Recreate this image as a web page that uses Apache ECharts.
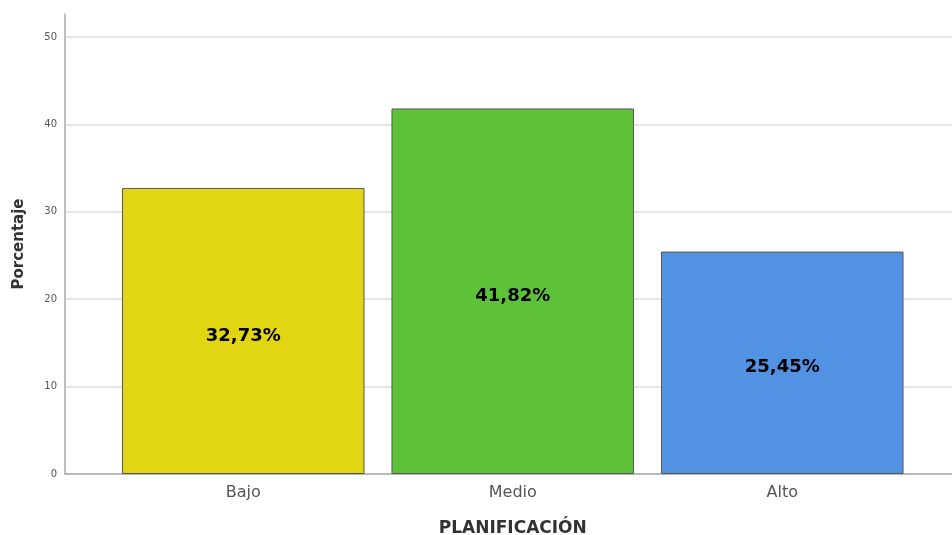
<!DOCTYPE html>
<html>
<head>
<meta charset="utf-8">
<script src="https://cdn.jsdelivr.net/npm/echarts@6/dist/echarts.min.js"></script>
<style>html,body{margin:0;padding:0;background:#fff}#c{width:952px;height:535px}</style>
</head>
<body>
<div id="c"></div>
<script>
var categories = ['Bajo', 'Medio', 'Alto'];
var values = [32.73, 41.82, 25.45];
var barColors = ['#e2d511', '#5ec238', '#5192e2'];
var yTicks = [0, 10, 20, 30, 40, 50];

var chart = echarts.init(document.getElementById('c'));
var fontFam = '"DejaVu Sans", sans-serif';
chart.setOption({
  backgroundColor: '#fff',
  animation: false,
  grid: [
    {left: 65, right: 0, top: 37, bottom: 61, outerBoundsMode: 'none'},
    {left: 108.5, right: 35, top: 37, bottom: 61, outerBoundsMode: 'none'},
    {left: 65, right: 0, top: 14, bottom: 61, outerBoundsMode: 'none'}
  ],
  xAxis: [
    {gridIndex: 0, type: 'category', data: categories, axisLabel: {show: false}, axisTick: {show: false},
     axisLine: {show: true, lineStyle: {color: '#aaaaaa', width: 1.5}}},
    {gridIndex: 1, type: 'category', data: categories, axisTick: {show: false}, axisLine: {show: false},
     axisLabel: {color: '#555', fontSize: 16, fontFamily: fontFam, margin: 11},
     name: 'PLANIFICACIÓN', nameLocation: 'middle', nameGap: 46,
     nameTextStyle: {fontWeight: 'bold', fontSize: 17, color: '#333', fontFamily: fontFam}},
    {gridIndex: 2, type: 'category', data: categories, show: false}
  ],
  yAxis: [
    {gridIndex: 0, type: 'value', min: yTicks[0], max: yTicks[yTicks.length - 1], interval: 10,
     axisLine: {show: false}, axisTick: {show: false},
     axisLabel: {color: '#555', fontSize: 10, fontFamily: fontFam, margin: 8},
     splitLine: {show: true, lineStyle: {color: '#dddddd', width: 1.5}}},
    {gridIndex: 1, type: 'value', min: 0, max: 50, show: false},
    {gridIndex: 2, type: 'value', min: 0, max: 52.63, splitLine: {show: false}, axisTick: {show: false},
     axisLabel: {show: false}, axisLine: {show: true, lineStyle: {color: '#aaaaaa', width: 1.5}},
     name: 'Porcentaje', nameLocation: 'middle', nameGap: 38, nameRotate: 90,
     nameTextStyle: {fontWeight: 'bold', fontSize: 15, color: '#333', fontFamily: fontFam}}
  ],
  series: [{
    type: 'bar', xAxisIndex: 1, yAxisIndex: 1,
    barWidth: '90%',
    data: values.map(function (v, i) {
      return {value: v, itemStyle: {color: barColors[i]}};
    }),
    itemStyle: {borderColor: '#555', borderWidth: 1},
    label: {show: true, position: 'inside', offset: [0, 5], color: '#000', fontWeight: 'bold', fontSize: 18, fontFamily: fontFam,
      formatter: function (p) { return p.value.toFixed(2).replace('.', ',') + '%'; }}
  }]
});
</script>
</body>
</html>
